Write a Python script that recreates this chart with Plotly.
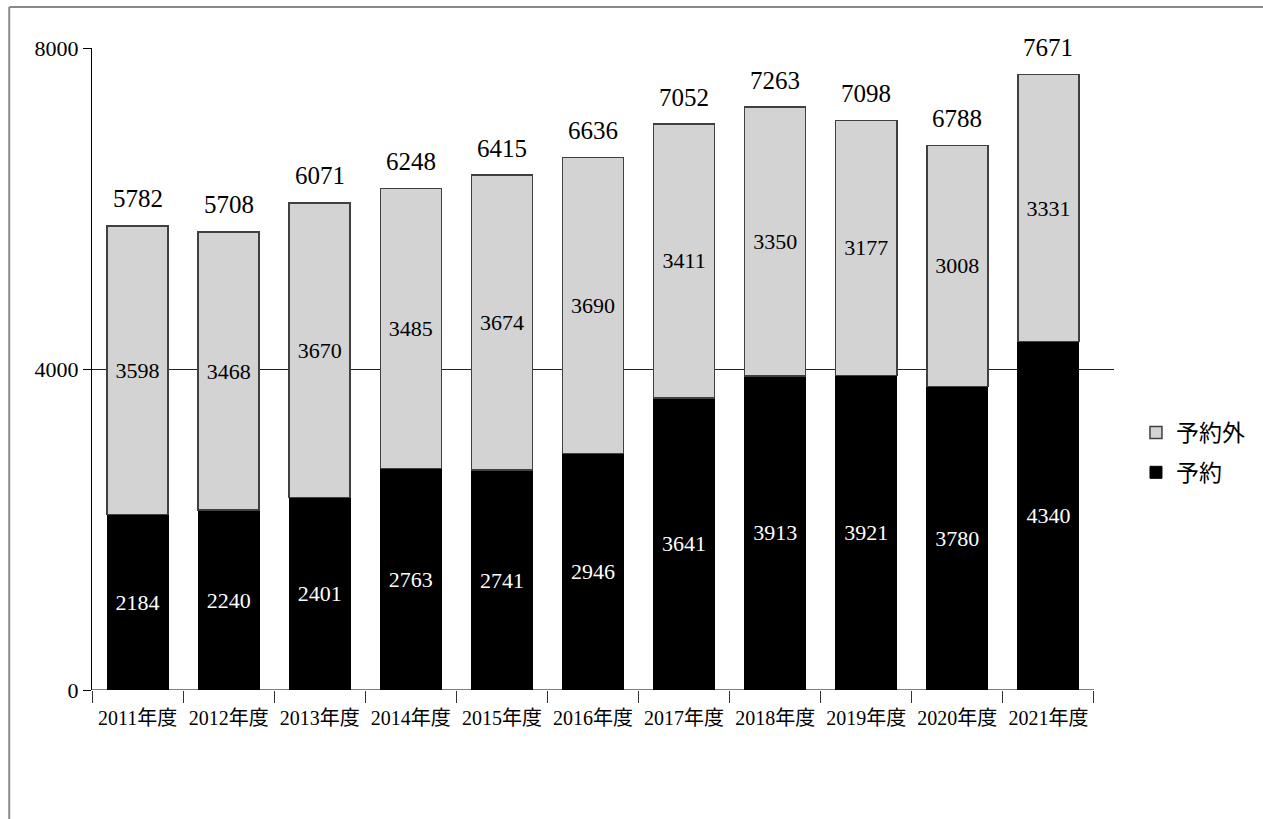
import plotly.graph_objects as go

# Fiscal-year categories and counts
years = ["2011年度", "2012年度", "2013年度", "2014年度", "2015年度", "2016年度",
         "2017年度", "2018年度", "2019年度", "2020年度", "2021年度"]
reserved = [2184, 2240, 2401, 2763, 2741, 2946, 3641, 3913, 3921, 3780, 4340]
unreserved = [3598, 3468, 3670, 3485, 3674, 3690, 3411, 3350, 3177, 3008, 3331]
totals = [r + u for r, u in zip(reserved, unreserved)]

y_ticks = [0, 4000, 8000]

SERIF = "Liberation Serif, Noto Sans CJK JP, serif"

fig = go.Figure()

fig.add_trace(go.Bar(
    name="予約",
    x=years,
    y=reserved,
    text=[str(v) for v in reserved],
    textposition="inside",
    insidetextanchor="middle",
    textangle=0,
    textfont=dict(family=SERIF, size=22, color="white"),
    marker=dict(color="black", line=dict(color="black", width=1)),
    legendgroup="a",
    legendrank=2,
))

fig.add_trace(go.Bar(
    name="予約外",
    x=years,
    y=unreserved,
    text=[str(v) for v in unreserved],
    textposition="inside",
    insidetextanchor="middle",
    textangle=0,
    textfont=dict(family=SERIF, size=22, color="black"),
    marker=dict(color="#d3d3d3", line=dict(color="#404040", width=1.5)),
    legendgroup="b",
    legendrank=1,
))

# Totals above each stacked bar
for cat, tot in zip(years, totals):
    fig.add_annotation(
        x=cat, y=tot, text=str(tot), showarrow=False,
        yanchor="middle", yshift=27,
        font=dict(family=SERIF, size=25, color="black"),
    )

# Category baseline (gridlines run a little past the last category)
fig.add_shape(type="line", xref="x", yref="y",
              x0=-0.5, x1=len(years) - 0.5, y0=0, y1=0,
              line=dict(color="black", width=1))

# Outer chart frame (top and left edges)
fig.add_shape(type="line", xref="paper", yref="paper",
              x0=-0.081, x1=1.2, y0=1.0638, y1=1.0638,
              line=dict(color="#8a8a8a", width=2))
fig.add_shape(type="line", xref="paper", yref="paper",
              x0=-0.081, x1=-0.081, y0=1.0638, y1=-0.3,
              line=dict(color="#8a8a8a", width=2))

fig.update_layout(
    width=1263, height=819,
    barmode="stack",
    bargap=0.33,
    plot_bgcolor="white",
    paper_bgcolor="white",
    margin=dict(l=92, r=149, t=48, b=129, autoexpand=False),
    font=dict(family=SERIF, size=21, color="black"),
    legend=dict(
        x=1.0215, xanchor="left",
        y=0.37, yanchor="middle",
        traceorder="grouped",
        tracegroupgap=7,
        itemwidth=30,
        font=dict(family=SERIF, size=23, color="black"),
        bgcolor="rgba(0,0,0,0)",
    ),
    xaxis=dict(
        type="category",
        range=[-0.5, len(years) - 0.5 + 0.22],
        showline=False,
        ticks="outside",
        tickson="boundaries",
        ticklen=12,
        tickcolor="#333333",
        tickwidth=1,
        tickangle=0,
        ticklabelstandoff=14,
        showgrid=False,
        tickfont=dict(family=SERIF, size=20, color="black"),
    ),
    yaxis=dict(
        range=[0, 8000],
        tickvals=y_ticks,
        ticktext=[str(v) for v in y_ticks],
        showline=True,
        linecolor="black",
        linewidth=1,
        ticks="outside",
        ticklen=8,
        tickcolor="black",
        showgrid=True,
        gridcolor="#222222",
        gridwidth=1,
        zeroline=False,
        tickfont=dict(family=SERIF, size=22, color="black"),
    ),
)

fig.write_html("out.html")
